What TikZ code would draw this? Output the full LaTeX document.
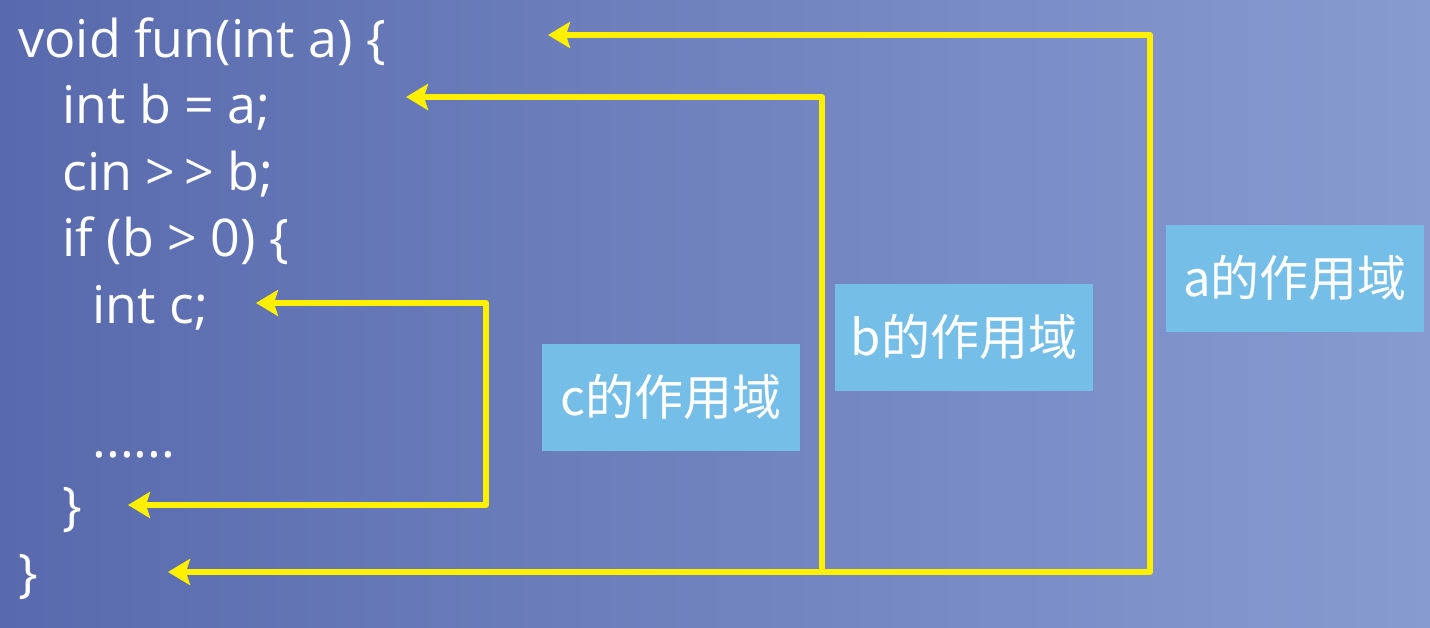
\documentclass[tikz,border=0pt]{standalone}
\usepackage{fontspec}
\setmainfont{Open Sans}
\newfontfamily\cjk{Noto Sans CJK SC}
\usetikzlibrary{arrows.meta}

\definecolor{bgleft}{RGB}{88,106,173}
\definecolor{bgright}{RGB}{136,155,208}
\definecolor{scopeblue}{RGB}{117,190,232}
\definecolor{scopeyellow}{RGB}{255,240,0}

\tikzset{
  code/.style={anchor=base west, text=white, inner sep=0pt, font=\fontsize{26}{31}\selectfont},
  scopebox/.style={fill=scopeblue, text=white, minimum width=129pt, minimum height=53.5pt, inner sep=0pt, font=\cjk\fontsize{24.5}{29}\selectfont},
  scopeline/.style={draw=scopeyellow, line width=3pt, line join=round},
  >={Stealth[length=11pt,width=13pt,inset=2pt]}
}

\begin{document}
\begin{tikzpicture}[x=0.5pt,y=-0.5pt]
   \shade[left color=bgleft, right color=bgright] (0,0) rectangle (1430,627);
   \useasboundingbox (0,0) rectangle (1430,627);

   % code
   \draw (18,57) node[code] (fun) {void fun(int a) \{};
     \draw (62,123) node[code] (intb) {int b = a;};
     \draw (62,190) node[code] (cin) {cin >\,> b;};
     \draw (62,256) node[code] (ifb) {if (b > 0) \{};
       \draw (92,323) node[code] (intc) {int c;};
       \draw (92,457) node[code] (dots) {......};
     \draw (62,524) node[code] (endif) {\}};
   \draw (18,591) node[code] (endfun) {\}};

   % scopes
   \node[scopebox] (cscope) at (671,397) {c的作用域};
   \node[scopebox] (bscope) at (964,337) {b的作用域};
   \node[scopebox] (ascope) at (1295,278) {a的作用域};

   \coordinate (atip) at (548,35);
   \coordinate (atop) at (1150,35);
   \coordinate (abot) at (1150,572);
   \coordinate (aend) at (168,572);
   \coordinate (btip) at (406,97);
   \coordinate (btop) at (822,97);
   \coordinate (bbot) at (822,572);
   \coordinate (ctip) at (256,303);
   \coordinate (ctop) at (486,303);
   \coordinate (cbot) at (486,505);
   \coordinate (cend) at (128,505);

   \draw[scopeline, <->] (atip) -- (atop) -- (abot) -- (aend);
   \draw[scopeline, <-] (btip) -- (btop) -- (bbot);
   \draw[scopeline, <->] (ctip) -- (ctop) -- (cbot) -- (cend);
\end{tikzpicture}
\end{document}
